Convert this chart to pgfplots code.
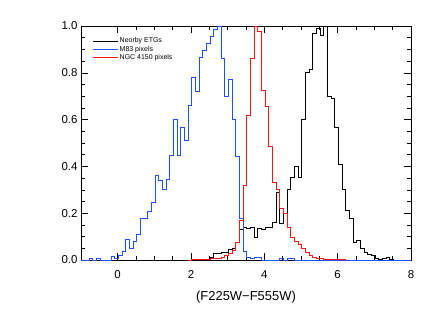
\documentclass[border=0pt]{standalone}
\usepackage{fontspec}
\setmainfont{Liberation Sans}
\usepackage{pgfplots}
\pgfplotsset{compat=1.18}
\definecolor{idlblue}{RGB}{30,80,255}
\definecolor{idlred}{RGB}{255,20,20}

\begin{document}
\begin{tikzpicture}
\begin{axis}[
  at={(0,0)}, anchor=south west,
  scale only axis, width=330bp, height=234bp,
  xmin=-1, xmax=8, ymin=0, ymax=1,
  xtick={0,2,4,6,8}, minor x tick num=3,
  ytick={0,0.2,0.4,0.6,0.8,1.0}, minor y tick num=3,
  tick align=inside,
  major tick length=7bp, minor tick length=4bp,
  every tick/.style={black, line width=0.5pt},
  axis line style={line width=0.6pt},
  /pgf/number format/assume math mode=true,
  yticklabel style={/pgf/number format/.cd, fixed, fixed zerofill, precision=1},
  ticklabel style={font=\fontsize{11.5}{13}\selectfont},
  xticklabel style={yshift=-7bp},
  xlabel={(F225W−F555W)},
  xlabel style={font=\fontsize{13}{15}\selectfont, yshift=-6bp},
  legend style={draw=none, fill=none, at={(0.036,0.955)}, anchor=north west,
    inner sep=0pt, font=\fontsize{7}{8}\selectfont,
    nodes={inner sep=0.9pt},
    /tikz/every even column/.append style={column sep=0bp}},
  legend cell align=left,
  legend image code/.code={\draw[#1] (0bp,0bp) -- (25bp,0bp);},
]
% Neorby ETGs
\addplot[draw=black, line width=0.75pt, const plot] coordinates {
 (2.42,0)(2.52,0.012)(2.62,0.028)(2.72,0.028)(2.82,0.031)(2.92,0.034)(3.02,0.045)
 (3.12,0.05)(3.22,0.075)(3.32,0.13)(3.42,0.14)(3.52,0.134)(3.62,0.14)(3.72,0.098)
 (3.82,0.134)(3.92,0.13)(4.02,0.14)(4.12,0.14)(4.22,0.162)(4.32,0.29)(4.42,0.155)
 (4.52,0.20)(4.62,0.30)(4.72,0.355)(4.82,0.40)(4.92,0.355)(5.02,0.60)(5.12,0.80)
 (5.22,0.815)(5.32,0.97)(5.42,0.99)(5.52,0.96)(5.62,1.0)(5.72,0.70)(5.82,0.69)
 (5.92,0.566)(6.02,0.41)(6.12,0.30)(6.22,0.21)(6.32,0.176)(6.42,0.076)(6.52,0.083)
 (6.62,0.05)(6.72,0.034)(6.82,0.025)(6.92,0.02)(7.02,0.008)(7.12,0.004)(7.22,0.006)
 (7.32,0.01)(7.42,0.003)(7.52,0)(7.62,0)
};
\addlegendentry{Neorby ETGs}
% M83 pixels
\addplot[draw=idlblue, line width=0.75pt, const plot] coordinates {
 (-1,0)(-0.78,0.006)(-0.68,0)(-0.58,0.006)(-0.48,0)(-0.18,0.014)(-0.08,0.006)
 (0.02,0.018)(0.12,0.035)(0.22,0.087)(0.32,0.05)(0.42,0.078)(0.52,0.108)(0.62,0.18)
 (0.72,0.18)(0.82,0.209)(0.92,0.245)(1.02,0.362)(1.12,0.34)(1.22,0.303)(1.32,0.345)
 (1.42,0.447)(1.52,0.60)(1.62,0.447)(1.72,0.565)(1.82,0.51)(1.92,0.66)(2.02,0.78)
 (2.12,0.72)(2.22,0.866)(2.32,0.895)(2.42,0.925)(2.52,0.955)(2.62,0.985)(2.72,1.0)
 (2.82,0.86)(2.92,0.70)(3.02,0.77)(3.12,0.60)(3.22,0.443)(3.32,0.18)(3.42,0.035)
 (3.52,0.012)(3.62,0.006)(3.72,0.012)(3.82,0.012)(3.92,0)(4.42,0.006)(4.52,0)
 (4.62,0.006)(4.72,0.006)(4.82,0)(8,0)
};
\addlegendentry{M83 pixels}
% NGC 4150 pixels
\addplot[draw=idlred, line width=0.75pt, const plot] coordinates {
 (1.92,0)(2.02,0.002)(2.12,0.002)(2.22,0.003)(2.32,0.004)(2.42,0.004)(2.52,0.006)
 (2.62,0.007)(2.72,0.008)(2.82,0.012)(2.92,0.018)(3.02,0.027)(3.12,0.04)(3.22,0.075)
 (3.32,0.169)(3.42,0.319)(3.52,0.619)(3.62,0.862)(3.72,1.0)(3.82,0.975)(3.92,0.726)
 (4.02,0.657)(4.12,0.486)(4.22,0.33)(4.32,0.30)(4.42,0.22)(4.52,0.198)(4.62,0.14)
 (4.72,0.095)(4.82,0.08)(4.92,0.066)(5.02,0.048)(5.12,0.033)(5.22,0.02)(5.32,0.01)
 (5.42,0.006)(5.52,0.005)(5.62,0.004)(5.72,0.004)(5.82,0.003)(5.92,0.004)(6.02,0.003)
 (6.12,0.002)(6.22,0)
};
\addlegendentry{NGC 4150 pixels}
\end{axis}
\pgfresetboundingbox
\path (-81bp,-52bp) rectangle (355bp,260bp);
\end{tikzpicture}
\end{document}
